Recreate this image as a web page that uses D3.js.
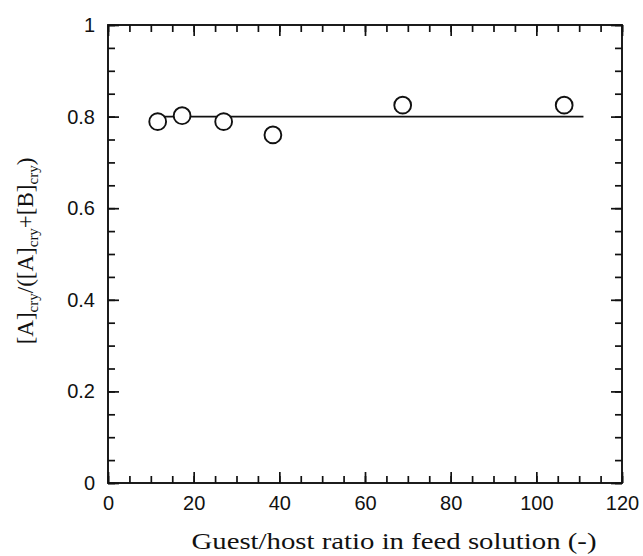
<!DOCTYPE html>
<html>
<head>
<meta charset="utf-8">
<title>Guest/host ratio</title>
<script src="https://cdn.jsdelivr.net/npm/d3@7"></script>
<style>
  body { margin: 0; background: #fff; }
  svg { display: block; }
</style>
</head>
<body>
<script>
// values
var ratio = [11.6, 17.3, 27.0, 38.5, 68.8, 106.5];
var fraction = [0.789, 0.802, 0.789, 0.760, 0.825, 0.825];
var fitX = [11.6, 111];
var fitY = [0.8, 0.8];
var xTicks = [0, 20, 40, 60, 80, 100, 120];
var yTicks = [0, 0.2, 0.4, 0.6, 0.8, 1];

var width = 643, height = 556;
var margin = {top: 25, right: 21, bottom: 73, left: 108};
var w = width - margin.left - margin.right,
    h = height - margin.top - margin.bottom;

var svg = d3.select("body").append("svg")
    .attr("width", width)
    .attr("height", height);

var g = svg.append("g")
    .attr("transform", "translate(" + margin.left + "," + margin.top + ")");

var x = d3.scaleLinear().domain([0, 120]).range([0, w]);
var y = d3.scaleLinear().domain([0, 1]).range([h, 0]);

var xMinor = d3.range(0, 121, 5), yMinor = d3.range(0, 1.001, 0.05);

function styleAxis(sel) {
  sel.select(".domain").remove();
  sel.selectAll("line").attr("stroke", "#111").attr("stroke-width", 1.7);
  sel.selectAll("text")
    .attr("font-family", "'Liberation Sans', Arial, sans-serif")
    .attr("font-size", "20px")
    .attr("fill", "#111");
}

// bottom
g.append("g").attr("transform", "translate(0," + h + ")")
  .call(d3.axisBottom(x).tickValues(xMinor).tickSize(-7).tickFormat(""))
  .call(styleAxis);
g.append("g").attr("transform", "translate(0," + h + ")")
  .call(d3.axisBottom(x).tickValues(xTicks).tickSize(-11).tickPadding(13).tickFormat(d3.format("d")))
  .call(styleAxis);
// top
g.append("g")
  .call(d3.axisTop(x).tickValues(xMinor).tickSize(-7).tickFormat(""))
  .call(styleAxis);
g.append("g")
  .call(d3.axisTop(x).tickValues(xTicks).tickSize(-11).tickFormat(""))
  .call(styleAxis);
// left
g.append("g")
  .call(d3.axisLeft(y).tickValues(yMinor).tickSize(-7).tickFormat(""))
  .call(styleAxis);
g.append("g")
  .call(d3.axisLeft(y).tickValues(yTicks).tickSize(-11).tickPadding(13)
        .tickFormat(function(d) { return d === 0 || d === 1 ? d3.format("d")(d) : d3.format(".1f")(d); }))
  .call(styleAxis);
// right
g.append("g").attr("transform", "translate(" + w + ",0)")
  .call(d3.axisRight(y).tickValues(yMinor).tickSize(-7).tickFormat(""))
  .call(styleAxis);
g.append("g").attr("transform", "translate(" + w + ",0)")
  .call(d3.axisRight(y).tickValues(yTicks).tickSize(-11).tickFormat(""))
  .call(styleAxis);

// frame
g.append("rect")
  .attr("width", w).attr("height", h)
  .attr("fill", "none")
  .attr("stroke", "#111")
  .attr("stroke-width", 1.9);

// fitted line
var line = d3.line()
  .x(function(d, i) { return x(fitX[i]); })
  .y(function(d, i) { return y(fitY[i]); });
g.append("path")
  .datum(fitX)
  .attr("d", line)
  .attr("fill", "none")
  .attr("stroke", "#111")
  .attr("stroke-width", 1.9);

// data points
g.selectAll("circle.pt")
  .data(ratio)
  .enter().append("circle")
  .attr("class", "pt")
  .attr("cx", function(d) { return x(d); })
  .attr("cy", function(d, i) { return y(fraction[i]); })
  .attr("r", 8.4)
  .attr("fill", "#fff")
  .attr("stroke", "#111")
  .attr("stroke-width", 1.9);

// x axis title
svg.append("text")
  .attr("x", 394)
  .attr("y", 549)
  .attr("text-anchor", "middle")
  .attr("font-family", "'Liberation Serif', 'Times New Roman', serif")
  .attr("font-size", "23px")
  .attr("textLength", 405)
  .attr("lengthAdjust", "spacingAndGlyphs")
  .attr("fill", "#111")
  .text("Guest/host ratio in feed solution (-)");

// y axis title with subscripts
var yt = svg.append("text")
  .attr("transform", "translate(33,251) rotate(-90)")
  .attr("text-anchor", "middle")
  .attr("font-family", "'Liberation Serif', 'Times New Roman', serif")
  .attr("font-size", "23px")
  .attr("fill", "#111");
var parts = [["[A]", 0], ["cry", 1], ["/([A]", 0], ["cry", 1], ["+[B]", 0], ["cry", 1], [")", 0]];
parts.forEach(function(p) {
  var t = yt.append("tspan").text(p[0]);
  if (p[1]) t.attr("font-size", "15px").attr("dy", 5);
  else if (yt.selectAll("tspan").size() > 1) t.attr("dy", -5);
});
</script>
</body>
</html>
